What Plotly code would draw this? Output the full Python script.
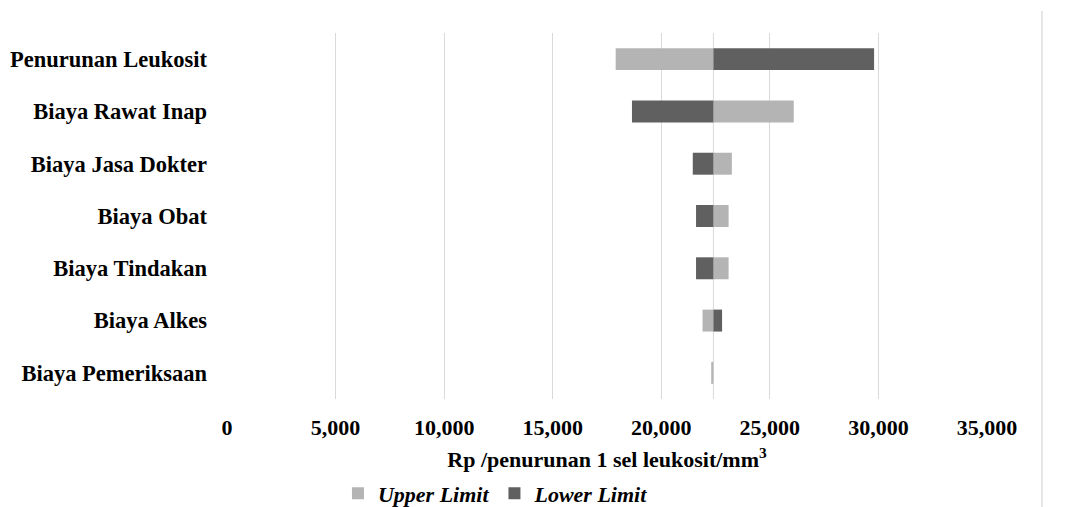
import plotly.graph_objects as go

categories = ["Penurunan Leukosit", "Biaya Rawat Inap", "Biaya Jasa Dokter", "Biaya Obat",
              "Biaya Tindakan", "Biaya Alkes", "Biaya Pemeriksaan"]
baseline = 22400
upper_limit = [17900, 26100, 23250, 23100, 23100, 21900, 22300]
lower_limit = [29800, 18650, 21450, 21600, 21600, 22800, 22400]
tick_vals = [0, 5000, 10000, 15000, 20000, 25000, 30000, 35000]
tick_text = ["0", "5,000", "10,000", "15,000", "20,000", "25,000", "30,000", "35,000"]

FONT = "Liberation Serif, Times New Roman, serif"
LIGHT = "#b4b4b4"
DARK = "#606060"

def span(vals):
    bases = [min(v, baseline) for v in vals]
    widths = [abs(v - baseline) for v in vals]
    return bases, widths

ub, uw = span(upper_limit)
lb, lw = span(lower_limit)

fig = go.Figure()
fig.add_trace(go.Bar(y=categories, x=uw, base=ub, orientation="h", name="<b><i>Upper Limit</i></b>",
                     marker=dict(color=LIGHT, line=dict(width=0)), width=0.42))
fig.add_trace(go.Bar(y=categories, x=lw, base=lb, orientation="h", name="<b><i>Lower Limit</i></b>",
                     marker=dict(color=DARK, line=dict(width=0)), width=0.42))

fig.add_shape(type="line", xref="x", yref="paper", x0=baseline, x1=baseline, y0=0, y1=1,
              line=dict(color="#d9d9d9", width=1), layer="below")
fig.add_shape(type="line", xref="paper", yref="paper", x0=1.0724, x1=1.0724, y0=-0.3, y1=1.06,
              line=dict(color="#e6e6e6", width=2))

fig.update_layout(
    width=1075, height=499,
    margin=dict(l=219, r=96, t=25, b=108, autoexpand=False),
    paper_bgcolor="white", plot_bgcolor="white",
    barmode="overlay",
    font=dict(family=FONT, color="#000000", size=22),
    showlegend=True,
    legend=dict(orientation="h", x=0.146, xanchor="left", y=-0.258, yanchor="middle",
                font=dict(family=FONT, size=22, color="#000000"), traceorder="normal",
                itemwidth=30),
    xaxis=dict(range=[0, 35000], tickvals=tick_vals, ticktext=tick_text, automargin=False,
               showgrid=True, gridcolor="#d9d9d9", gridwidth=1, zeroline=False,
               showline=False, ticks="", ticklabelstandoff=13,
               tickfont=dict(family=FONT, size=22, color="#000000", weight="bold"),
               title=dict(text="<b>Rp /penurunan 1 sel leukosit/mm<sup>3</sup></b>",
                          font=dict(family=FONT, size=22, color="#000000"), standoff=12)),
    yaxis=dict(autorange="reversed", showgrid=False, zeroline=False, showline=False,
               ticks="", ticklabelstandoff=19, automargin=False,
               tickfont=dict(family=FONT, size=22.5, color="#000000", weight="bold")),
)

fig.write_html("out.html")
